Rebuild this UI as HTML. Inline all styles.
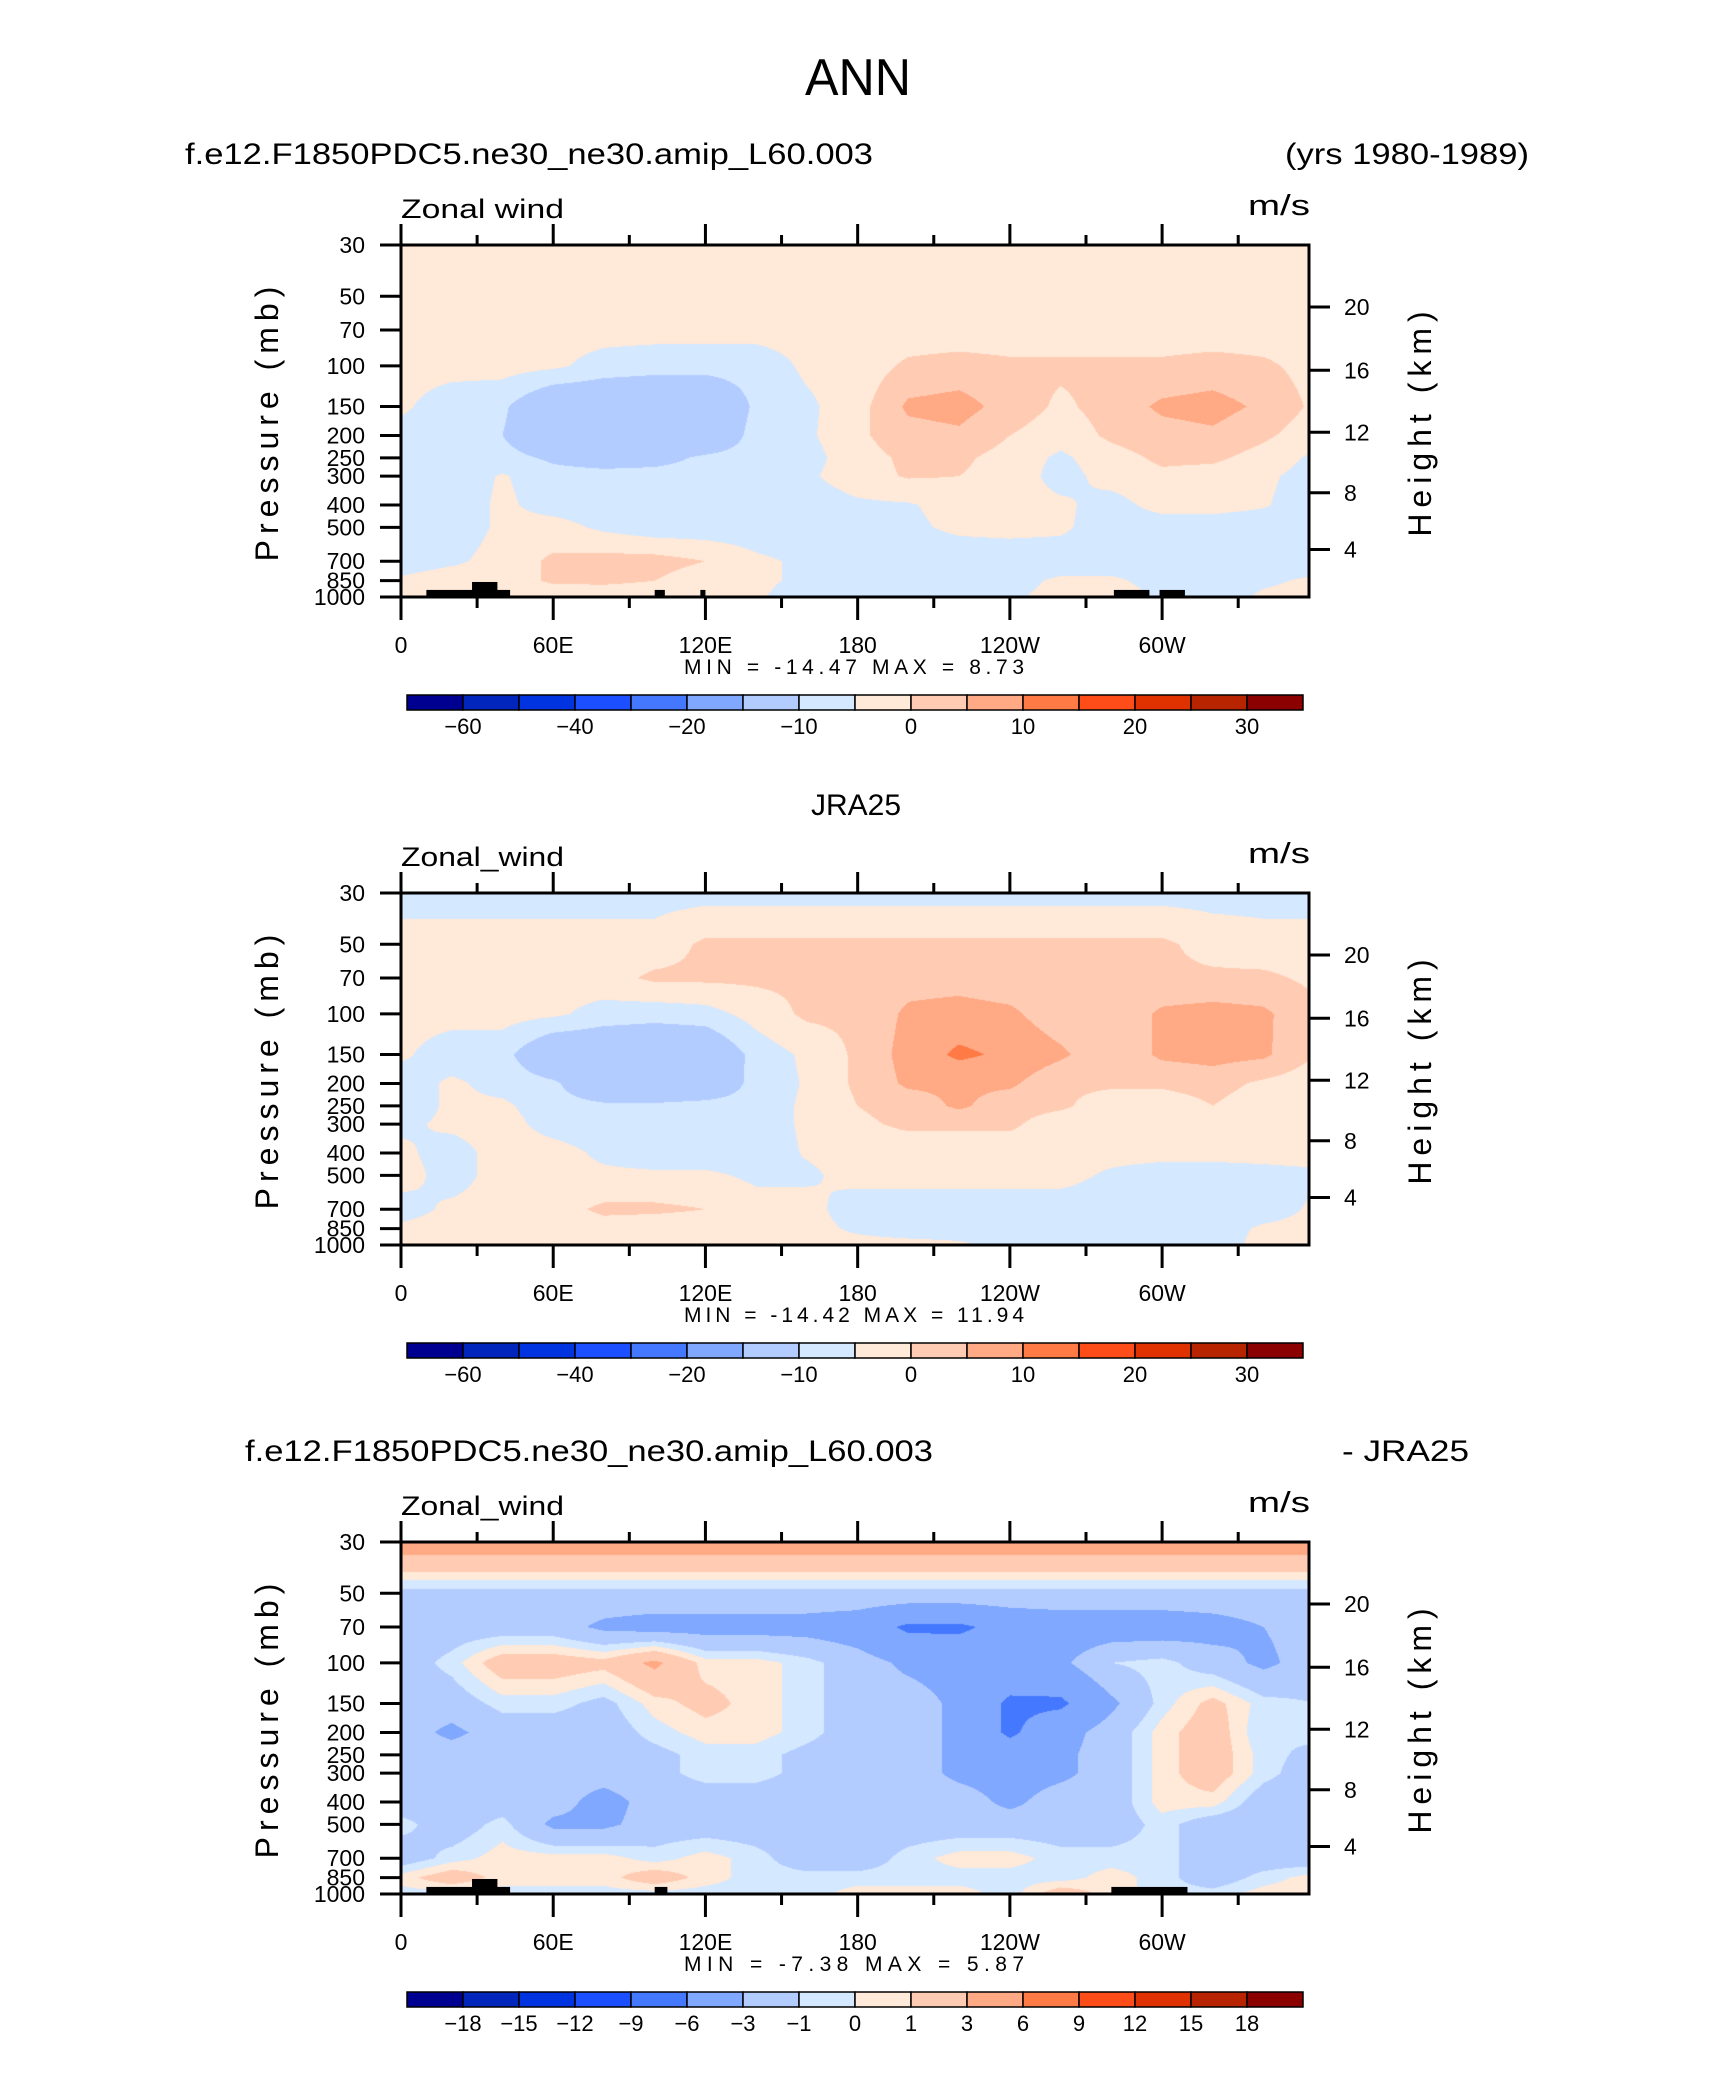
<!DOCTYPE html>
<html><head><meta charset="utf-8">
<style>
html,body{margin:0;padding:0;background:#fff;}
#wrap{position:relative;width:1710px;height:2074px;overflow:hidden;background:#fff;}
canvas{position:absolute;}
svg{position:absolute;left:0;top:0;}
text{font-family:"Liberation Sans",sans-serif;fill:#000;}
</style></head>
<body>
<div id="wrap">
<canvas id="c0" width="908" height="352" style="left:401px;top:245px"></canvas>
<canvas id="c1" width="908" height="352" style="left:401px;top:893px"></canvas>
<canvas id="c2" width="908" height="352" style="left:401px;top:1542px"></canvas>
<svg id="svg" width="1710" height="2074" xmlns="http://www.w3.org/2000/svg">
<text x="858" y="95" font-size="52" text-anchor="middle" textLength="106" lengthAdjust="spacingAndGlyphs">ANN</text>
<text x="185" y="164" font-size="30" textLength="688" lengthAdjust="spacingAndGlyphs">f.e12.F1850PDC5.ne30_ne30.amip_L60.003</text>
<text x="1285" y="164" font-size="30" textLength="244" lengthAdjust="spacingAndGlyphs">(yrs 1980-1989)</text>
<text x="856" y="815" font-size="30" text-anchor="middle">JRA25</text>
<text x="245" y="1461" font-size="30" textLength="688" lengthAdjust="spacingAndGlyphs">f.e12.F1850PDC5.ne30_ne30.amip_L60.003</text>
<text x="1342" y="1461" font-size="30" textLength="127" lengthAdjust="spacingAndGlyphs">- JRA25</text>
</svg>
</div>
<script>
// ---- data ----
const LONS = [0,20,40,60,80,100,120,140,160,180,200,220,240,260,280,300,320,340,360];
const PLEVS = [30,50,70,100,150,200,250,300,400,500,700,850,1000];
const modelU = [
[2,2,2,2,2,2,2,2,2,2,2,2,2,2,2,2,2,2,2],
[2,2,2,2,2,2,2,2,2,2,2,2,2,2,2,2,2,2,2],
[2,2,2,2,2,2,2,2,2,2,2,2,2,2,2,2,2,2,2],
[2,2,2,1,-2,-3,-3,-3,1,2,6,7,6,6,6,6,7,6,3],
[1,-3,-4,-12,-12,-12,-12,-4,-1,3,11,12,8,4,7,11,12,9,4],
[-2,-3,-5,-12,-12,-12,-11,-3,-1,4,8,9,5,2,6,8,9,6,2],
[-3,-3,-3,-6,-8,-7,-4,-3,-2,3,6,6,3,-1,3,6,6,3,-1],
[-3,-3,0.5,-3,-3,-3,-3,-3,-1,3,5.5,5,3,-2,2,4,3,1,-2],
[-3,-3,1,-2,-3,-3,-3,-3,-3,-1,-0.5,2,2,1,-2,2,2,0.5,-3],
[-3,-3,1,2,-1,-3,-3,-3,-3,-3,-1,1,1.5,1,-3,-3,-3,-3,-3],
[-3,-1,2,6,7,7,5,1,-1,-3,-3,-3,-3,-3,-3,-3,-3,-3,-3],
[1,3,2,6,6,5,2,1,-1,-3,-3,-3,-2,1,1,-2,-3,-1,1],
[2,6,2,1,2,2,1,0.5,-2,-3,-3,-3,-1,2,3,-1,-3,1,2]
];
const obsU = [
[-2,-2,-2,-2,-2,-2,-2,-2,-2,-2,-2,-2,-2,-2,-2,-2,-2,-2,-2],
[2,2,2,2,2,2,6,6,6,6,6,6,6,6,6,6,3,2,2],
[2,2,2,2,3,6,6,6,6,7,8,8,7,7,6,6,6,6,4],
[2,2,2,1,-2,-3,-2,2,6,6,11,12,11,7,6,11,12,11,6],
[1,-3,-3,-12,-12,-12,-12,-3,1,6,12,16,14,11,6,11,12,11,5],
[-3,1,-2,-4,-11,-12,-11,-3,0.5,6,11,11,11,6,6,6,7,4,2],
[-3,1,1,-3,-4,-4,-3,-3,1,5,7,11,7,6,2,2,5,2,2],
[-1,1,2,-2,-3,-3,-3,-3,1,4,6,6,6,2,2,2,2,2,2],
[1,-2,2,2,-1,-3,-3,-3,0.5,2,2,2,2,2,2,2,2,2,2],
[2,-2,2,1,1,1,1,-1,-1,2,2,2,2,2,-1,-3,-3,-2,-1],
[-2,1,2,3,6,6,5,2,2,-3,-3,-3,-3,-3,-3,-3,-3,-3,1],
[1,2,2,2,3,2,2,2,2,-1,-3,-3,-3,-3,-3,-3,-3,1,2],
[3,4,2,2,2,2,2,2,2,2,2,1,-2,-3,-3,-3,-3,2,3]
];
const diffU = [
[4.5,4.5,4.5,4.5,4.5,4.5,4.5,4.5,4.5,4.5,4.5,4.5,4.5,4.5,4.5,4.5,4.5,4.5,4.5],
[-1.5,-1.5,-1.5,-1.5,-1.5,-1.5,-1.5,-1.5,-1.5,-1.5,-1.5,-1.5,-1.5,-1.5,-1.5,-1.5,-1.5,-1.5,-1.5],
[-2,-2,-2,-2,-3.5,-4,-4,-4,-4,-4.5,-6.5,-6.5,-5,-4.5,-4.5,-4.5,-4,-3,-2],
[-2,-0.5,2,2,1.5,3.5,0.5,0.5,-0.5,-2,-3.5,-4,-4,-3.5,-1,-0.5,-2,-3.5,-2],
[-2,-2,-0.5,-0.5,-1.5,0.5,1.5,0.5,-0.5,-2,-2,-3.5,-6.5,-6.5,-3.5,-0.5,1.5,-0.5,-1],
[-2,-3.5,-2,-2,-2,-0.5,0.5,0.5,-0.5,-2,-2,-3.5,-6.5,-4,-2,0.5,2,-1,-0.5],
[-2,-2,-2,-2,-2,-1.5,-0.5,-0.5,-1.5,-2,-2,-3.5,-4.5,-3.5,-2,0.5,2,-0.5,-1.5],
[-2,-2,-2,-2,-2,-1.5,-0.5,-0.5,-1.5,-2,-2,-3.5,-4,-3.5,-2,0.5,2,-0.5,-2],
[-2,-2,-2,-2,-4,-2,-2,-2,-2,-2,-2,-2,-3.5,-2,-2,0.5,0.5,-2,-2],
[-0.5,-2,-0.5,-3.5,-3.5,-2,-2,-2,-2,-2,-2,-2,-2,-2,-2,-0.5,-2,-2,-2],
[-2,-0.5,0.5,0.5,0.5,-0.5,0.5,-0.5,-2,-2,-0.5,0.5,0.5,-0.5,-0.5,-0.5,-2,-2,-2],
[0.5,2,0.5,0.5,0.5,2,0.5,-0.5,-0.5,-0.5,-0.5,-0.5,-0.5,-0.5,0.5,-0.5,-2,-0.5,0.5],
[-0.5,-0.5,-0.5,-0.5,-0.5,-0.5,-0.5,-0.5,-0.5,0.5,0.5,0.5,-0.5,2,0.5,-0.5,-0.5,0.5,0.5]
];
const absLevels = [-50,-40,-30,-25,-20,-15,-5,0,5,10,15,20,25,30,35];
const absLabels = ["-60","","-40","","-20","","-10","","0","","10","","20","","30"];
const diffLevels = [-18,-15,-12,-9,-6,-3,-1,0,1,3,6,9,12,15,18];
const diffLabels = ["-18","-15","-12","-9","-6","-3","-1","0","1","3","6","9","12","15","18"];
const palette = ["#000090","#0026bb","#0034e0","#1b4fff","#4479ff","#80a8ff","#b3ccff","#d4e8ff","#ffe9d8","#ffccb3","#ffa985","#ff7a45","#ff4d1a","#e03200","#b82400","#8b0000"];
const landStart = [10,28,100,118,281,299];
const landEnd = [43,38,104,120,295,309];
const landP = [932,861,932,932,932,932];
const diffLandStart = [10,28,100,280];
const diffLandEnd = [43,38,105,310];
const diffLandP = [932,861,932,932];
const xTickLons = [0,60,120,180,240,300];
const xTickLabels = ["0","60E","120E","180","120W","60W"];
const pTicks = [30,50,70,100,150,200,250,300,400,500,700,850,1000];
const zTicks = [4,8,12,16,20];
const zFrac = [0.865,0.704,0.532,0.356,0.176];
const panelTops = [245,893,1542];
const minMax = [["-14.47","8.73"],["-14.42","11.94"],["-7.38","5.87"]];

// ---- axes ----
const X0 = 401, PW = 908, PH = 352, DEG = 2.537;
const LP0 = Math.log(30), LPR = Math.log(1000/30);
function xOf(lon){ return X0 + lon*DEG; }
function yOfP(p, top){ return top + (Math.log(p)-LP0)/LPR*PH; }
function hexRgb(h){ return [parseInt(h.substr(1,2),16),parseInt(h.substr(3,2),16),parseInt(h.substr(5,2),16)]; }
const palRgb = palette.map(hexRgb);
const lnP = PLEVS.map(Math.log);

function drawField(cid, grid, levels){
  const cv = document.getElementById(cid), ctx = cv.getContext('2d');
  const img = ctx.createImageData(PW, PH);
  for (let py=0; py<PH; py++){
    const lp = LP0 + (py+0.5)/PH*LPR;
    let j=0; while (j<lnP.length-2 && lp>lnP[j+1]) j++;
    const ty = Math.min(1,Math.max(0,(lp-lnP[j])/(lnP[j+1]-lnP[j])));
    for (let px=0; px<PW; px++){
      const lon = (px+0.5)/DEG;
      let i = Math.min(LONS.length-2, Math.floor(lon/20));
      const tx = Math.min(1,Math.max(0,(lon-LONS[i])/20));
      const v = (grid[j][i]*(1-tx)+grid[j][i+1]*tx)*(1-ty) + (grid[j+1][i]*(1-tx)+grid[j+1][i+1]*tx)*ty;
      let k=0; while (k<levels.length && v>=levels[k]) k++;
      const c = palRgb[k], o = (py*PW+px)*4;
      img.data[o]=c[0]; img.data[o+1]=c[1]; img.data[o+2]=c[2]; img.data[o+3]=255;
    }
  }
  ctx.putImageData(img,0,0);
}
drawField('c0', modelU, absLevels);
drawField('c1', obsU, absLevels);
drawField('c2', diffU, diffLevels);

const svg = document.getElementById('svg');
const NS = "http://www.w3.org/2000/svg";
function mk(tag, attrs, parent){
  const e = document.createElementNS(NS, tag);
  for (const k in attrs) e.setAttribute(k, attrs[k]);
  (parent||svg).appendChild(e); return e;
}
function txt(x,y,s,size,anchor,parent){
  const t = mk('text',{x:x,y:y,'font-size':size,'text-anchor':anchor||'start'},parent);
  t.textContent = s; return t;
}

function drawPanel(idx, labels, lS, lE, lP, varName){
  const T = panelTops[idx], B = T+PH, g = mk('g',{});
  
  
  for (let k=0;k<lS.length;k++){
    const r = mk('rect',{x:xOf(lS[k]),y:yOfP(lP[k],T),width:(lE[k]-lS[k])*DEG,height:B-yOfP(lP[k],T),fill:'#000'},g);
    
    
  }
  const fr = mk('rect',{x:X0,y:T,width:PW,height:PH,fill:'none',stroke:'#000','stroke-width':3},g);
  
  
  for (let lon=0; lon<360; lon+=30){
    const major = lon%60===0, x = xOf(lon);
    mk('line',{x1:x,x2:x,y1:T,y2:T-(major?21:10),stroke:'#000','stroke-width':3},g);
    mk('line',{x1:x,x2:x,y1:B,y2:B+(major?23:11),stroke:'#000','stroke-width':3},g);
  }
  for (let k=0;k<xTickLons.length;k++){
    const t = txt(xOf(xTickLons[k]), B+56, xTickLabels[k], 23, 'middle', g);
    
    
  }
  for (let k=0;k<pTicks.length;k++){
    const y = yOfP(pTicks[k],T);
    mk('line',{x1:X0-21,x2:X0,y1:y,y2:y,stroke:'#000','stroke-width':3},g);
    const t = txt(365, y+8, String(pTicks[k]), 23, 'end', g);
    
    
  }
  for (let k=0;k<zTicks.length;k++){
    const y = T + zFrac[k]*PH;
    mk('line',{x1:X0+PW,x2:X0+PW+21,y1:y,y2:y,stroke:'#000','stroke-width':3},g);
    const t = txt(1344, y+8, String(zTicks[k]), 23, 'start', g);
    
    
  }
  const cy = T+PH/2;
  const yt = txt(0,0,'Pressure (mb)',32,'middle',g);
  yt.setAttribute('transform','translate(278,'+cy+') rotate(-90)');
  yt.setAttribute('letter-spacing','6');
  
  
  const rt = txt(0,0,'Height (km)',32,'middle',g);
  rt.setAttribute('transform','translate(1431,'+cy+') rotate(-90)');
  rt.setAttribute('letter-spacing','6');
  
  
  const vn = txt(X0, T-27, varName, 27, 'start', g);
  vn.setAttribute('textLength','163');
  vn.setAttribute('lengthAdjust','spacingAndGlyphs');
  
  
  const un = txt(1248, T-30, 'm/s', 29, 'start', g);
  un.setAttribute('textLength','62');
  un.setAttribute('lengthAdjust','spacingAndGlyphs');
  
  
  const mm = txt(684, B+77, 'MIN = '+minMax[idx][0]+'   MAX = '+minMax[idx][1], 21, 'start', g);
  mm.setAttribute('textLength','340');
  
  
  const cbx = 407, cbw = 56, cby = B+98;
  for (let k=0;k<palette.length;k++){
    const r = mk('rect',{x:cbx+k*cbw,y:cby,width:cbw,height:15,fill:palette[k],stroke:'#000','stroke-width':1.5},g);
    
    
  }
  for (let k=0;k<labels.length;k++){
    if (!labels[k]) continue;
    const t = txt(cbx+(k+1)*cbw, B+137, labels[k].replace('-','\u2212'), 22, 'middle', g);
    
    
  }
}
drawPanel(0, absLabels, landStart, landEnd, landP, 'Zonal wind');
drawPanel(1, absLabels, [], [], [], 'Zonal_wind');
drawPanel(2, diffLabels, diffLandStart, diffLandEnd, diffLandP, 'Zonal_wind');
</script>
</body></html>
